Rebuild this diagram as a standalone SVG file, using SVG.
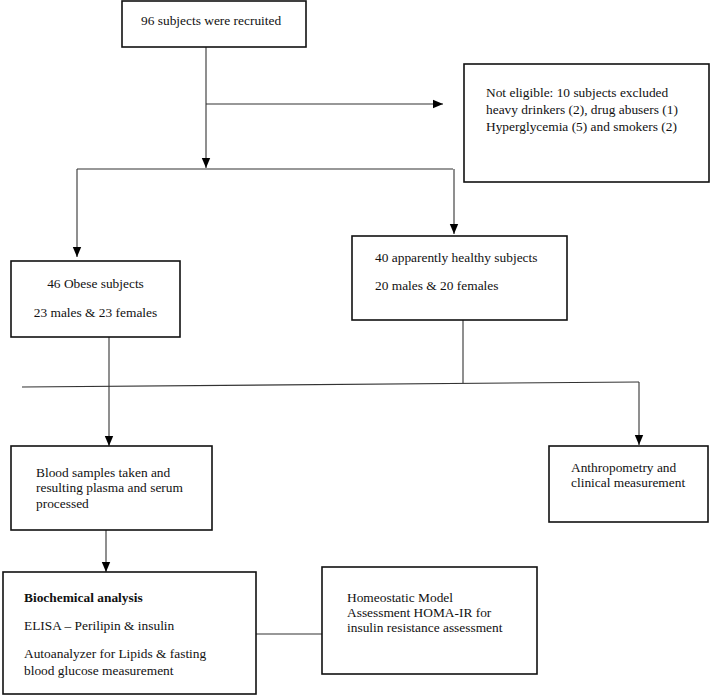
<svg xmlns="http://www.w3.org/2000/svg" width="710" height="696" viewBox="0 0 710 696">
<defs>
<marker id="arr" markerUnits="userSpaceOnUse" markerWidth="10" markerHeight="10" viewBox="0 0 10 10" refX="10" refY="5" orient="auto">
<path d="M0,0.8 L10,5 L0,9.2 z" fill="#000"/>
</marker>
<style>
.box{fill:#fff;stroke:#111;stroke-width:1.6}
.c{fill:none;stroke:#333;stroke-width:1.1}
.a{marker-end:url(#arr)}
text{font-family:"Liberation Serif","Times New Roman",serif;font-size:13.4px;fill:#111}
.b{font-weight:bold}
.m{text-anchor:middle}
</style>
</defs>
<rect width="710" height="696" fill="#fff"/>
<g id="connectors">
<line class="c a" x1="206" y1="47" x2="206" y2="168"/>
<line class="c a" x1="206" y1="104" x2="443" y2="104"/>
<line class="c" x1="77" y1="169" x2="453" y2="169"/>
<line class="c a" x1="77" y1="169" x2="77" y2="257"/>
<line class="c a" x1="454" y1="169" x2="454" y2="234"/>
<line class="c" x1="109" y1="337" x2="109" y2="386"/>
<line class="c" x1="463" y1="320" x2="463" y2="383"/>
<line class="c" x1="22" y1="387" x2="639" y2="382"/>
<line class="c a" x1="639" y1="382" x2="639" y2="445"/>
<line class="c a" x1="109" y1="386" x2="109" y2="446"/>
<line class="c a" x1="106" y1="530" x2="106" y2="572"/>
<line class="c" x1="256" y1="634" x2="322" y2="634"/>
</g>
<g id="recruited">
<rect class="box" x="122" y="1" width="184" height="46"/>
<text x="141" y="25">96 subjects were recruited</text>
</g>
<g id="not-eligible">
<rect class="box" x="464" y="64" width="245" height="118"/>
<text x="486" y="97">Not eligible: 10 subjects excluded</text>
<text x="486" y="114">heavy drinkers (2), drug abusers (1)</text>
<text x="486" y="131">Hyperglycemia (5) and smokers (2)</text>
</g>
<g id="obese">
<rect class="box" x="11" y="261" width="169" height="76"/>
<text class="m" x="95.5" y="288">46 Obese subjects</text>
<text class="m" x="95.5" y="317">23 males &amp; 23 females</text>
</g>
<g id="healthy">
<rect class="box" x="352" y="236" width="215" height="84"/>
<text x="375" y="262">40 apparently healthy subjects</text>
<text x="375" y="290">20 males &amp; 20 females</text>
</g>
<g id="blood">
<rect class="box" x="11" y="446" width="201" height="84"/>
<text x="36" y="477">Blood samples taken and</text>
<text x="36" y="492">resulting plasma and serum</text>
<text x="36" y="508">processed</text>
</g>
<g id="anthropometry">
<rect class="box" x="549" y="446" width="159" height="76"/>
<text x="571" y="472">Anthropometry and</text>
<text x="571" y="487">clinical measurement</text>
</g>
<g id="biochemical">
<rect class="box" x="3" y="572" width="253" height="122"/>
<text class="b" x="24" y="602">Biochemical analysis</text>
<text x="24" y="630">ELISA – Perilipin &amp; insulin</text>
<text x="24" y="658">Autoanalyzer for Lipids &amp; fasting</text>
<text x="24" y="675">blood glucose measurement</text>
</g>
<g id="homa">
<rect class="box" x="322" y="567" width="215" height="107"/>
<text x="347" y="602">Homeostatic Model</text>
<text x="347" y="617">Assessment HOMA-IR for</text>
<text x="347" y="632">insulin resistance assessment</text>
</g>
</svg>
